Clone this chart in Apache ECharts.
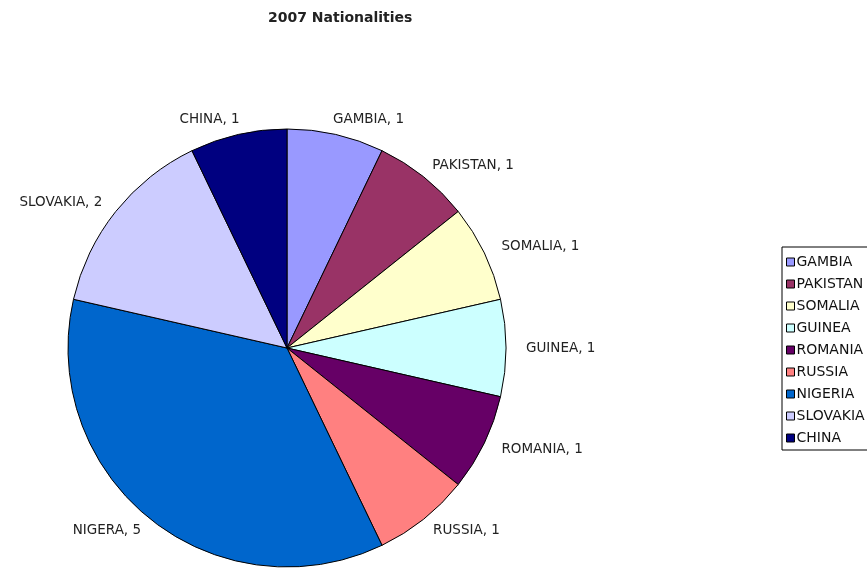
<!DOCTYPE html>
<html>
<head>
<meta charset="utf-8">
<script src="https://cdn.jsdelivr.net/npm/echarts@6/dist/echarts.min.js"></script>
<style>
  html, body { margin: 0; padding: 0; background: #fff; }
  #main { width: 867px; height: 570px; }
</style>
</head>
<body>
<div id="main"></div>
<script>
// legend names and slice values, clockwise from 12 o'clock
const countries = ['GAMBIA', 'PAKISTAN', 'SOMALIA', 'GUINEA', 'ROMANIA', 'RUSSIA', 'NIGERIA', 'SLOVAKIA', 'CHINA'];
const counts = [1, 1, 1, 1, 1, 1, 5, 2, 1];
// the slice labels (one is spelled differently in the original)
const sliceLabels = ['GAMBIA', 'PAKISTAN', 'SOMALIA', 'GUINEA', 'ROMANIA', 'RUSSIA', 'NIGERA', 'SLOVAKIA', 'CHINA'];
const colors = ['#9999ff', '#993366', '#ffffcc', '#ccffff', '#660066', '#ff8080', '#0066cc', '#ccccff', '#000080'];

const myChart = echarts.init(document.getElementById('main'));

const option = {
  animation: false,
  title: {
    text: '2007 Nationalities',
    left: 263,
    top: 6,
    textStyle: {
      fontFamily: 'DejaVu Sans',
      fontWeight: 'bold',
      fontSize: 14,
      color: '#222'
    }
  },
  legend: {
    orient: 'vertical',
    left: 782,
    top: 247,
    padding: [8, 40, 5, 4],
    itemGap: 8,
    itemWidth: 8,
    itemHeight: 8,
    icon: 'rect',
    borderColor: '#000',
    borderWidth: 1,
    itemStyle: { borderColor: '#000', borderWidth: 1 },
    textStyle: {
      fontFamily: 'DejaVu Sans',
      fontSize: 14,
      color: '#111',
      padding: [0, 0, 0, -3]
    },
    data: countries
  },
  color: colors,
  series: [{
    type: 'pie',
    center: [287, 348],
    radius: 219,
    startAngle: 90,
    clockwise: true,
    avoidLabelOverlap: false,
    itemStyle: { borderColor: '#000', borderWidth: 1 },
    label: {
      show: true,
      position: 'outside',
      fontFamily: 'DejaVu Sans',
      fontSize: 13.5,
      color: '#222',
      formatter: function (p) { return sliceLabels[p.dataIndex] + ', ' + p.value; }
    },
    labelLine: { show: false, length: 15, length2: 0 },
    // excel centres labels that sit near the top / bottom of the pie
    labelLayout: function (params) {
      const r = params.rect, l = params.labelRect;
      const cx = l.x + l.width / 2, cy = l.y + l.height / 2;
      const dx = cx - 287, dy = cy - 348;
      const d = Math.sqrt(dx * dx + dy * dy);
      const shift = (l.width / 2) * (1 - Math.abs(dx) / d) * 0.5;
      return { dx: dx > 0 ? -shift : shift };
    },
    emphasis: { disabled: true },
    data: countries.map(function (c, i) { return { name: c, value: counts[i] }; })
  }]
};

myChart.setOption(option);
</script>
</body>
</html>
